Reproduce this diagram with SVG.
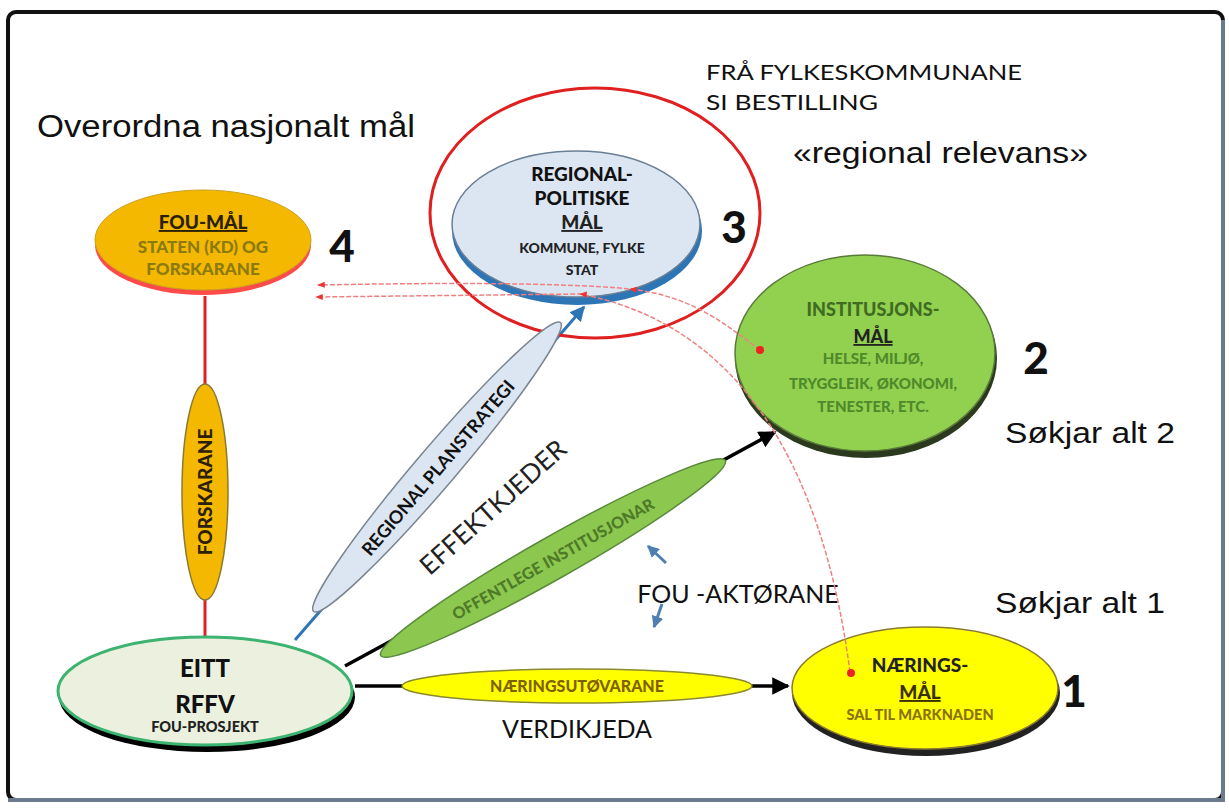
<svg xmlns="http://www.w3.org/2000/svg" width="1229" height="809" viewBox="0 0 1229 809">
<style>
.lb{font-family:Lato,"Open Sans",sans-serif;font-weight:900;text-anchor:middle}
.lr{font-family:Lato,"Open Sans",sans-serif;text-anchor:middle}
.ar{font-family:"Liberation Sans",Arial,sans-serif}
.num{font-family:Lato,"Open Sans",sans-serif;font-weight:900;font-size:44px;fill:#111;text-anchor:middle}
.red{fill:none;stroke:#f08080;stroke-width:1.5;stroke-dasharray:5 2}
</style>
<defs>
<marker id="ab" viewBox="0 0 10 10" refX="9" refY="5" markerWidth="5" markerHeight="5" orient="auto"><path d="M0,0 L10,5 L0,10 z" fill="#000"/></marker>
<marker id="abl" viewBox="0 0 10 10" refX="9" refY="5" markerWidth="5" markerHeight="5" orient="auto"><path d="M0,0 L10,5 L0,10 z" fill="#2e75b6"/></marker>
<marker id="asl" viewBox="0 0 10 10" refX="9" refY="5" markerWidth="4" markerHeight="4" orient="auto"><path d="M0,0 L10,5 L0,10 z" fill="#4f7fb0"/></marker>
<marker id="ar" viewBox="0 0 10 10" refX="9" refY="5" markerWidth="5" markerHeight="5" orient="auto"><path d="M0,1 L10,5 L0,9 z" fill="#e33"/></marker>
</defs>
<rect x="0" y="0" width="1229" height="809" fill="#fff"/>
<rect x="8" y="12" width="1215" height="788" rx="8" fill="#fff" stroke="#111" stroke-width="4"/>
<path d="M1223 20 L1223 800 L8 800" fill="none" stroke="#6b7b8c" stroke-width="4"/>

<g id="free-texts">
<text class="ar" x="37" y="137" font-size="31" fill="#111" textLength="378" lengthAdjust="spacingAndGlyphs">Overordna nasjonalt mål</text>
<text class="lr" x="706" y="80" font-size="22" fill="#111" style="text-anchor:start" textLength="316" lengthAdjust="spacingAndGlyphs">FRÅ FYLKESKOMMUNANE</text>
<text class="lr" x="706" y="110" font-size="22" fill="#111" style="text-anchor:start" textLength="172" lengthAdjust="spacingAndGlyphs">SI BESTILLING</text>
<text class="ar" x="793" y="163" font-size="30" fill="#111" textLength="295" lengthAdjust="spacingAndGlyphs">«regional relevans»</text>
<text class="ar" x="1005" y="443" font-size="29" fill="#111" textLength="170" lengthAdjust="spacingAndGlyphs">Søkjar alt 2</text>
<text class="ar" x="995" y="613" font-size="29" fill="#111" textLength="170" lengthAdjust="spacingAndGlyphs">Søkjar alt 1</text>
<text class="lr" x="577" y="738" font-size="25" fill="#111">VERDIKJEDA</text>
<text class="lr" x="738" y="603" font-size="25" fill="#111">FOU -AKTØRANE</text>
<text class="lr" x="0" y="0" font-size="26" fill="#222" transform="translate(499 514) rotate(-42)">EFFEKTKJEDER</text>
</g>

<g id="connectors">
<line x1="205" y1="640" x2="205" y2="296" stroke="#e02020" stroke-width="3"/>
<line x1="295" y1="640" x2="584" y2="307" stroke="#2e75b6" stroke-width="3" marker-end="url(#abl)"/>
<line x1="345" y1="666" x2="775" y2="432" stroke="#000" stroke-width="3.5" marker-end="url(#ab)"/>
<line x1="355" y1="686" x2="788" y2="686" stroke="#000" stroke-width="3.5" marker-end="url(#ab)"/>
<line x1="666" y1="563" x2="648" y2="546" stroke="#4f7fb0" stroke-width="3" marker-end="url(#asl)"/>
<line x1="662" y1="604" x2="654" y2="627" stroke="#4f7fb0" stroke-width="3" marker-end="url(#asl)"/>
</g>

<g id="node-fou-maal">
<ellipse cx="203" cy="245" rx="108" ry="50" fill="#ff2a2a" opacity="0.85"/>
<ellipse cx="203" cy="240" rx="108" ry="50" fill="#f5b800" stroke="#c9a020" stroke-width="1"/>
<text class="lb" x="203" y="229" font-size="19" fill="#2b2000" text-decoration="underline">FOU-MÅL</text>
<text class="lb" x="203" y="253" font-size="17" fill="#8a7a10">STATEN (KD)  OG</text>
<text class="lb" x="203" y="275" font-size="17" fill="#8a7a10">FORSKARANE</text>
<text class="num" x="342" y="262">4</text>
</g>

<g id="node-forskarane">
<ellipse cx="205" cy="492" rx="23" ry="108" fill="#f5b800" stroke="#8a7a30" stroke-width="1.5"/>
<text class="lb" x="0" y="0" font-size="19" fill="#2b2000" transform="translate(212 492) rotate(-90)">FORSKARANE</text>
</g>

<g id="node-regional">
<ellipse cx="595" cy="213" rx="165" ry="125" fill="none" stroke="#e02020" stroke-width="3"/>
<ellipse cx="577" cy="231" rx="125" ry="74" fill="#2e75b6"/>
<ellipse cx="576" cy="224" rx="124" ry="73" fill="#dce6f2" stroke="#6a7f95" stroke-width="1.5"/>
<text class="lb" x="582" y="181" font-size="19" fill="#111">REGIONAL-</text>
<text class="lb" x="582" y="205" font-size="19" fill="#111">POLITISKE</text>
<text class="lb" x="582" y="229" font-size="19" fill="#222" text-decoration="underline">MÅL</text>
<text class="lb" x="582" y="253" font-size="14" fill="#222">KOMMUNE,  FYLKE</text>
<text class="lb" x="582" y="275" font-size="14" fill="#222">STAT</text>
<text class="num" x="734" y="243">3</text>
</g>

<g id="node-institusjons">
<ellipse cx="866" cy="358" rx="131" ry="100" fill="#2b3a1e"/>
<ellipse cx="865" cy="353" rx="130" ry="98" fill="#92d050" stroke="#5a7a3a" stroke-width="1.5"/>
<text class="lb" x="873" y="316" font-size="18" fill="#3f6b22">INSTITUSJONS-</text>
<text class="lb" x="873" y="343" font-size="18" fill="#222" text-decoration="underline">MÅL</text>
<text class="lb" x="873" y="364" font-size="15" fill="#4f8a2a">HELSE, MILJØ,</text>
<text class="lb" x="873" y="389" font-size="15" fill="#4f8a2a">TRYGGLEIK, ØKONOMI,</text>
<text class="lb" x="873" y="412" font-size="15" fill="#4f8a2a">TENESTER, ETC.</text>
<text class="num" x="1036" y="374">2</text>
</g>

<g id="node-naerings">
<ellipse cx="926" cy="693" rx="134" ry="63" fill="#222"/>
<ellipse cx="925" cy="688" rx="133" ry="61" fill="#ffff00" stroke="#8a7a30" stroke-width="1.5"/>
<text class="lb" x="920" y="672" font-size="19" fill="#222">NÆRINGS-</text>
<text class="lb" x="920" y="699" font-size="19" fill="#3a3000" text-decoration="underline">MÅL</text>
<text class="lb" x="920" y="720" font-size="14.5" fill="#8a7010">SAL TIL MARKNADEN</text>
<text class="num" x="1074" y="707">1</text>
</g>

<g id="node-eitt">
<ellipse cx="207" cy="697" rx="148" ry="55" fill="#000"/>
<ellipse cx="205" cy="691" rx="147" ry="54" fill="#ebf1de" stroke="#3cb371" stroke-width="3"/>
<text class="lb" x="205" y="677" font-size="24" fill="#111">EITT</text>
<text class="lb" x="205" y="713" font-size="24" fill="#111">RFFV</text>
<text class="lb" x="205" y="732" font-size="14.5" fill="#222">FOU-PROSJEKT</text>
</g>

<g id="node-planstrategi">
<ellipse cx="437" cy="467" rx="190" ry="20" fill="#dce6f2" stroke="#7a8590" stroke-width="1.5" transform="rotate(-49.5 437 467)"/>
<text class="lb" x="0" y="0" font-size="18" fill="#111" style="font-weight:700" transform="translate(443 472) rotate(-49.5)">REGIONAL PLANSTRATEGI</text>
</g>

<g id="node-offentlege">
<ellipse cx="553" cy="558" rx="198" ry="21" fill="#8cc850" stroke="#5a8a3a" stroke-width="1.5" transform="rotate(-29.5 553 558)"/>
<text class="lb" x="0" y="0" font-size="16" fill="#4f7a28" transform="translate(556 564) rotate(-29.5)">OFFENTLEGE INSTITUSJONAR</text>
</g>

<g id="node-naeringsutovarane">
<ellipse cx="577" cy="686" rx="175" ry="17" fill="#ffff00" stroke="#8a8a30" stroke-width="1.5"/>
<text class="lb" x="577" y="692" font-size="16" fill="#7f6000">NÆRINGSUTØVARANE</text>
</g>

<g id="red-links">
<path class="red" d="M760 350 C720 320 690 296 630 289 C560 282 420 283 318 285" marker-mid="url(#ar)" marker-end="url(#ar)"/>
<path class="red" d="M850 672 C830 520 770 330 580 294 L316 297" marker-mid="url(#ar)" marker-end="url(#ar)"/>
<circle cx="760" cy="350" r="4" fill="#e22"/>
<circle cx="851" cy="673" r="4" fill="#e22"/>
</g>
</svg>
